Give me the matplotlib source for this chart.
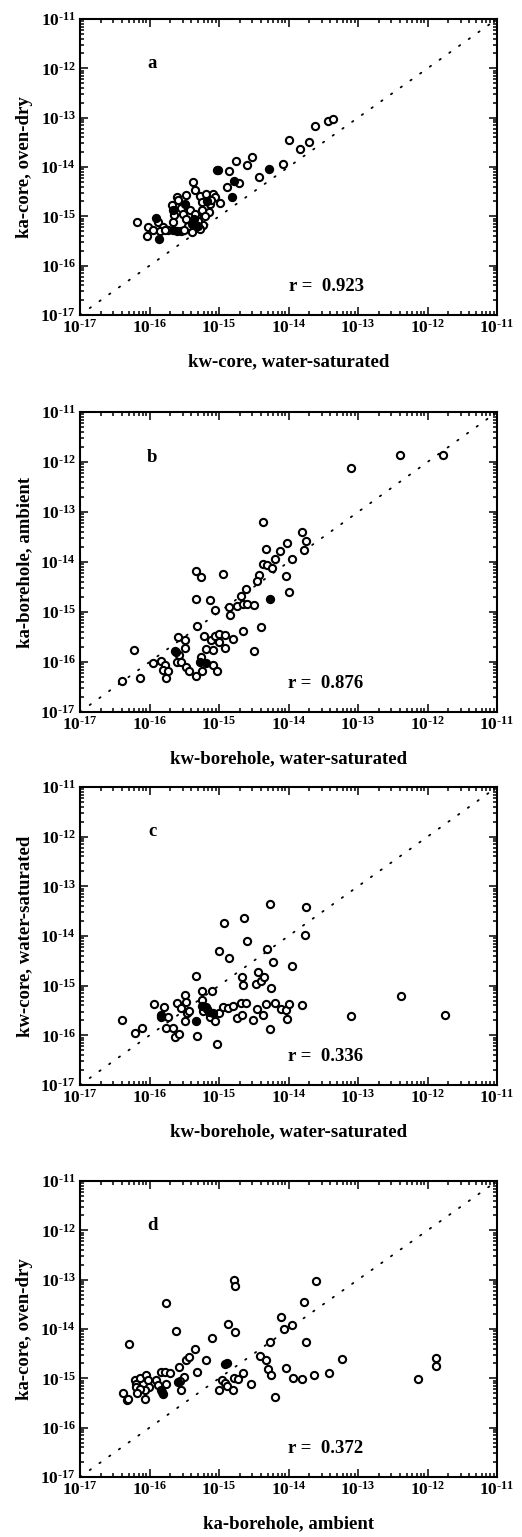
import numpy as np
import matplotlib
matplotlib.use("Agg")
import matplotlib.pyplot as plt
from matplotlib import ticker

plt.rcParams['font.family'] = ['Liberation Serif', 'DejaVu Serif']
plt.rcParams['font.weight'] = 'bold'
plt.rcParams['mathtext.fontset'] = 'custom'
plt.rcParams['mathtext.rm'] = 'Liberation Serif:bold'
plt.rcParams['mathtext.bf'] = 'Liberation Serif:bold'
plt.rcParams['mathtext.default'] = 'rm'

# log10 permeabilities (m^2): (x, y)
a_open = [(-16.18,-15.12),(-16.02,-15.22),(-16.03,-15.40),(-15.88,-15.12),(-15.95,-15.28),(-15.80,-15.22),
          (-15.73,-15.28),(-15.54,-15.30),(-15.68,-14.78),(-15.65,-14.98),(-15.66,-15.12),(-15.61,-14.60),
          (-15.59,-14.66),(-15.54,-14.83),(-15.52,-14.95),(-15.47,-14.56),(-15.47,-15.05),(-15.42,-14.88),
          (-15.39,-15.32),(-15.37,-14.31),(-15.35,-14.47),(-15.32,-15.01),(-15.27,-14.58),(-15.25,-14.71),
          (-15.25,-14.88),(-15.23,-15.18),(-15.19,-14.54),(-15.15,-14.91),(-15.13,-14.76),(-15.09,-14.54),
          (-15.06,-14.61),(-14.98,-14.73),(-14.89,-14.41),(-14.86,-14.09),(-14.71,-14.33),(-14.76,-13.87),
          (-14.60,-13.95),(-14.52,-13.79),(-14.43,-14.21),(-14.08,-13.94),(-13.99,-13.46),(-13.83,-13.63),
          (-13.71,-13.50),(-13.62,-13.16),(-13.43,-13.06),(-13.36,-13.03),(-15.11,-14.66),(-15.44,-15.20),
          (-15.30,-15.10),(-15.20,-15.00),(-15.35,-14.95),(-15.28,-15.25),(-15.50,-15.28),(-15.85,-15.30),
          (-15.78,-15.28)]
a_filled = [(-15.90,-15.03),(-15.87,-15.45),(-15.66,-15.27),(-15.66,-14.88),(-15.49,-14.74),(-15.39,-15.15),
            (-15.17,-14.68),(-14.82,-14.60),(-15.03,-14.07),(-15.01,-14.07),(-14.78,-14.28),(-14.28,-14.04),
            (-15.30,-15.20),(-15.36,-15.05),(-15.60,-15.30)]

b_open = [(-16.40,-16.37),(-16.13,-16.32),(-16.23,-15.76),(-15.95,-16.02),(-15.84,-15.98),(-15.78,-16.06),
          (-15.80,-16.16),(-15.76,-16.33),(-15.74,-16.18),(-15.60,-16.00),(-15.59,-15.50),(-15.57,-15.86),
          (-15.54,-16.00),(-15.49,-15.56),(-15.49,-15.71),(-15.47,-16.10),(-15.43,-16.18),(-15.33,-16.28),
          (-15.25,-16.18),(-15.31,-15.28),(-15.33,-14.73),(-15.33,-14.17),(-15.26,-14.29),(-15.18,-15.73),
          (-15.09,-15.76),(-15.26,-15.90),(-15.09,-16.05),(-15.03,-16.18),(-15.21,-15.48),(-15.13,-14.76),
          (-15.12,-15.55),(-15.06,-14.96),(-15.06,-15.48),(-15.00,-15.43),(-15.00,-15.60),(-14.94,-14.23),
          (-14.91,-15.46),(-14.92,-15.71),(-14.85,-14.90),(-14.84,-15.06),(-14.80,-15.53),(-14.74,-14.88),
          (-14.68,-14.68),(-14.66,-15.38),(-14.61,-14.53),(-14.65,-14.83),(-14.59,-14.83),(-14.49,-14.86),
          (-14.50,-15.78),(-14.43,-14.26),(-14.39,-15.30),(-14.37,-14.03),(-14.46,-14.38),(-14.36,-13.19),
          (-14.32,-13.74),(-14.31,-14.05),(-14.24,-14.11),(-14.19,-13.93),(-14.12,-13.77),(-14.03,-14.27),
          (-14.02,-13.61),(-14.00,-14.60),(-13.95,-13.94),(-13.81,-13.39),(-13.77,-13.75),(-13.75,-13.58),
          (-13.10,-12.11),(-12.39,-11.86),(-11.77,-11.86)]
b_filled = [(-15.64,-15.77),(-15.62,-15.80),(-15.28,-16.00),(-15.19,-16.02),(-14.26,-14.73)]

c_open = [(-16.39,-15.70),(-16.21,-15.95),(-16.11,-15.86),(-15.94,-15.36),(-15.79,-15.42),(-15.73,-15.63),
          (-15.76,-15.86),(-15.66,-15.86),(-15.64,-16.03),(-15.58,-15.97),(-15.60,-15.34),(-15.55,-15.44),
          (-15.49,-15.19),(-15.48,-15.32),(-15.46,-15.56),(-15.49,-15.71),(-15.43,-15.50),(-15.33,-14.81),
          (-15.32,-16.02),(-15.25,-15.11),(-15.25,-15.29),(-15.23,-15.51),(-15.18,-15.42),(-15.13,-15.64),
          (-15.10,-15.11),(-15.06,-15.72),(-15.03,-16.18),(-15.00,-15.55),(-15.00,-14.30),(-14.94,-15.42),
          (-14.93,-13.73),(-14.87,-15.45),(-14.85,-14.44),(-14.80,-15.41),(-14.74,-15.66),(-14.67,-15.60),
          (-14.67,-14.82),(-14.65,-14.99),(-14.64,-13.63),(-14.68,-15.35),(-14.61,-15.34),(-14.59,-14.10),
          (-14.51,-15.70),(-14.47,-14.97),(-14.45,-15.46),(-14.44,-14.72),(-14.40,-14.91),(-14.35,-14.82),
          (-14.37,-15.59),(-14.32,-15.37),(-14.31,-14.27),(-14.27,-15.88),(-14.26,-13.36),(-14.25,-15.04),
          (-14.22,-14.52),(-14.19,-15.34),(-14.11,-15.47),(-14.03,-15.48),(-14.02,-15.67),(-14.00,-15.37),
          (-13.95,-14.60),(-13.80,-15.39),(-13.76,-13.98),(-13.75,-13.42),(-13.10,-15.62),(-12.38,-15.21),
          (-11.75,-15.59)]
c_filled = [(-15.84,-15.60),(-15.83,-15.63),(-15.33,-15.71),(-15.24,-15.40),(-15.14,-15.53),(-15.08,-15.55),
            (-15.17,-15.47)]

d_open = [(-16.38,-15.30),(-16.33,-15.43),(-16.31,-15.41),(-16.29,-14.31),(-16.21,-15.04),(-16.20,-15.11),
          (-16.19,-15.17),(-16.13,-15.00),(-16.05,-14.94),(-16.02,-15.04),(-16.01,-15.17),(-16.07,-15.23),
          (-16.14,-15.21),(-16.18,-15.30),(-16.07,-15.41),(-15.90,-15.04),(-15.88,-15.14),(-15.83,-14.87),
          (-15.77,-14.87),(-15.71,-14.89),(-15.76,-15.11),(-15.76,-13.47),(-15.62,-14.04),(-15.58,-14.77),
          (-15.51,-14.98),(-15.54,-15.23),(-15.56,-15.05),(-15.48,-14.62),(-15.43,-14.57),(-15.35,-14.40),
          (-15.32,-14.88),(-15.18,-14.63),(-15.10,-14.19),(-15.00,-15.24),(-14.95,-15.04),(-14.92,-15.09),
          (-14.88,-15.16),(-14.80,-15.24),(-14.87,-13.90),(-14.79,-13.00),(-14.77,-13.13),(-14.77,-14.06),
          (-14.78,-15.00),(-14.73,-15.02),(-14.65,-14.89),(-14.54,-15.11),(-14.41,-14.55),(-14.33,-14.62),
          (-14.30,-14.82),(-14.25,-14.94),(-14.27,-14.26),(-14.19,-15.38),(-14.11,-13.75),(-14.07,-14.00),
          (-14.04,-14.80),(-13.95,-13.91),(-13.94,-15.00),(-13.81,-15.02),(-13.78,-13.45),(-13.75,-14.27),
          (-13.63,-14.94),(-13.61,-13.03),(-13.42,-14.90),(-13.23,-14.61),(-12.14,-15.01),(-11.88,-14.59),
          (-11.88,-14.75)]
d_filled = [(-15.83,-15.24),(-15.81,-15.31),(-15.82,-15.28),(-15.59,-15.07),(-14.91,-14.70),(-14.88,-14.69)]

letters = ['a', 'b', 'c', 'd']
r_values = ['0.923', '0.876', '0.336', '0.372']
xlabels = ['kw-core, water-saturated', 'kw-borehole, water-saturated',
           'kw-borehole, water-saturated', 'ka-borehole, ambient']
ylabels = ['ka-core, oven-dry', 'ka-borehole, ambient',
           'kw-core, water-saturated', 'ka-core, oven-dry']
open_sets = [a_open, b_open, c_open, d_open]
filled_sets = [a_filled, b_filled, c_filled, d_filled]

W, H = 522, 1537
# axes boxes in pixels: (top, bottom)
boxes = [(19, 315), (412, 712), (787, 1085), (1181, 1477)]
left, right = 80, 497

fig = plt.figure(figsize=(W / 100, H / 100), dpi=100)


def decade_label(v, pos):
    n = int(round(np.log10(v)))
    return '10$^{\\text{-}%d}$' % abs(n)


lo, hi = 1e-17, 1e-11
for i in range(4):
    top, bot = boxes[i]
    ax = fig.add_axes([left / W, 1 - bot / H, (right - left) / W, (bot - top) / H])
    ax.set_xscale('log')
    ax.set_yscale('log')
    ax.set_xlim(lo, hi)
    ax.set_ylim(lo, hi)

    ax.plot([lo, hi], [lo, hi], color='black', lw=1.3, linestyle=(0, (0.8, 5.8)),
            dash_capstyle='round')

    op = np.array(open_sets[i])
    fi = np.array(filled_sets[i])
    ax.plot(10 ** op[:, 0], 10 ** op[:, 1], 'o', ms=5.2, mfc='white', mec='black', mew=1.5)
    ax.plot(10 ** fi[:, 0], 10 ** fi[:, 1], 'o', ms=5.2, mfc='black', mec='black', mew=1.5)

    ax.xaxis.set_major_locator(ticker.LogLocator(base=10, numticks=20))
    ax.yaxis.set_major_locator(ticker.LogLocator(base=10, numticks=20))
    ax.xaxis.set_minor_locator(ticker.LogLocator(base=10, subs=np.arange(2, 10), numticks=100))
    ax.yaxis.set_minor_locator(ticker.LogLocator(base=10, subs=np.arange(2, 10), numticks=100))
    ax.xaxis.set_major_formatter(ticker.FuncFormatter(decade_label))
    ax.yaxis.set_major_formatter(ticker.FuncFormatter(decade_label))
    ax.xaxis.set_minor_formatter(ticker.NullFormatter())
    ax.yaxis.set_minor_formatter(ticker.NullFormatter())
    ax.tick_params(which='both', direction='in', top=True, right=True, width=1.1)
    ax.tick_params(which='major', length=5.5, labelsize=12.5, pad=3)
    ax.tick_params(which='minor', length=3)
    for s in ax.spines.values():
        s.set_linewidth(1.5)

    ax.set_xlabel(xlabels[i], fontsize=13.5, fontweight='bold')
    ax.set_ylabel(ylabels[i], fontsize=13.5, fontweight='bold')
    ax.xaxis.set_label_coords(0.5, -38 / (bot - top))
    ax.yaxis.set_label_coords(-0.113, 0.5)

    ax.text(0.173, 0.85, letters[i], transform=ax.transAxes, fontsize=13.5,
            fontweight='bold', ha='center', va='center')
    ax.text(0.59, 0.095, 'r =  ' + r_values[i], transform=ax.transAxes, fontsize=13.5,
            fontweight='bold', ha='center', va='center')

fig.savefig('out.png', dpi=100)
